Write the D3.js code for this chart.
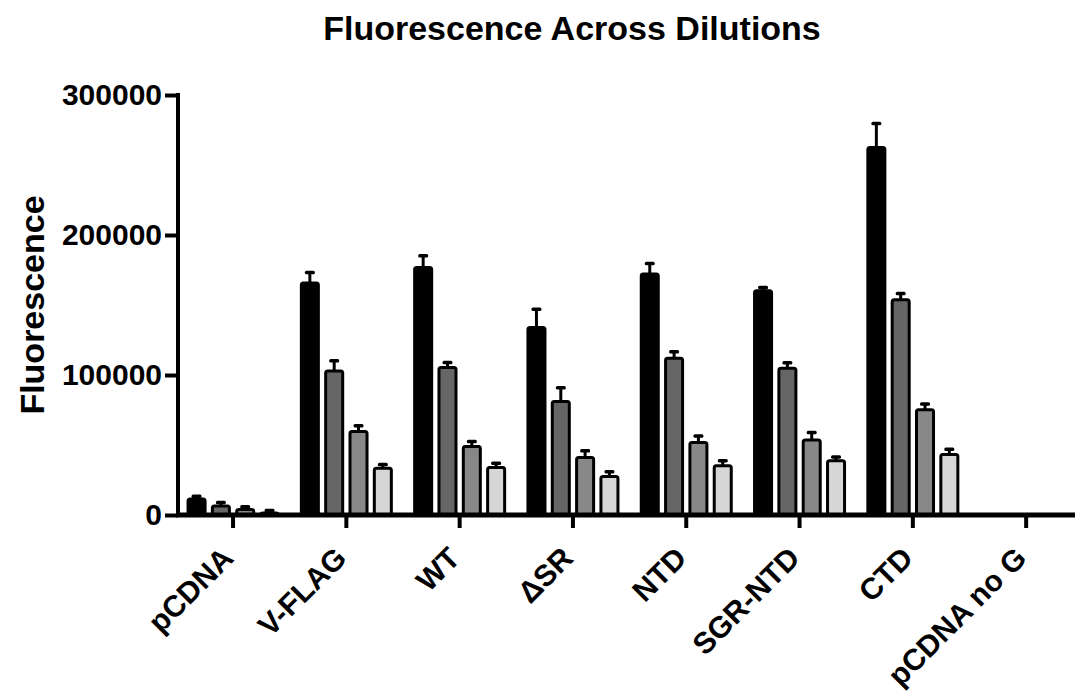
<!DOCTYPE html>
<html>
<head>
<meta charset="utf-8">
<script src="https://cdn.jsdelivr.net/npm/d3@7"></script>
<style>
  body { margin: 0; background: #fff; }
  text { font-family: "Liberation Sans", Arial, sans-serif; font-weight: bold; fill: #000; }
</style>
</head>
<body>
<script>
// data
var categories = ["pCDNA", "V-FLAG", "WT", "\u0394SR", "NTD", "SGR-NTD", "CTD", "pCDNA no G"];
var series = ["d1", "d2", "d3", "d4"];
var colors = ["#000000", "#666666", "#888888", "#d6d6d6"];
var values = [
  [12500, 7500, 5000, 2500],
  [166700, 104000, 60700, 34500],
  [177900, 106400, 50000, 35000],
  [135000, 82100, 42100, 28600],
  [173300, 113100, 52900, 36200],
  [161200, 105900, 54700, 39800],
  [263600, 154800, 76200, 44300],
  [0, 0, 0, 0]
];
var errTops = [
  [13500, 9000, 6000, 3300],
  [173300, 110200, 63800, 36100],
  [185200, 109000, 52500, 37000],
  [147000, 91000, 46000, 31000],
  [179700, 116600, 56400, 38800],
  [162600, 108800, 59000, 41500],
  [279700, 158300, 79300, 47000],
  [0, 0, 0, 0]
];
var yTicks = [0, 100000, 200000, 300000];

var width = 1075, height = 700;

var svg = d3.select("body").append("svg")
  .attr("width", width)
  .attr("height", height);

var x0 = d3.scaleBand()
  .domain(categories)
  .range([176.4, 1082.8]);
var x1 = d3.scaleBand()
  .domain(series)
  .range([0, 93])
  .paddingInner(0.177);
var y = d3.scaleLinear()
  .domain([0, 300000])
  .range([515, 95]);

// title
svg.append("text")
  .attr("x", 572)
  .attr("y", 40)
  .attr("text-anchor", "middle")
  .attr("font-size", 34)
  .text("Fluorescence Across Dilutions");

// y label
svg.append("text")
  .attr("transform", "translate(44,305) rotate(-90)")
  .attr("text-anchor", "middle")
  .attr("font-size", 34)
  .text("Fluorescence");

// bars
var groups = svg.selectAll(".grp")
  .data(categories)
  .enter()
  .append("g")
  .attr("class", "grp")
  .attr("transform", function(d) { return "translate(" + (x0(d) + x0.bandwidth() / 2 - 46.5) + ",0)"; });

groups.each(function(cat, ci) {
  var g = d3.select(this);
  series.forEach(function(s, si) {
    var v = values[ci][si];
    var e = errTops[ci][si];
    var bx = x1(s);
    var bw = x1.bandwidth();
    if (v <= 0) return;
    // error bar (upper only)
    g.append("line")
      .attr("x1", bx + bw / 2).attr("x2", bx + bw / 2)
      .attr("y1", y(v) + 2).attr("y2", y(e))
      .attr("stroke", "#000")
      .attr("stroke-width", 3);
    g.append("rect")
      .attr("x", bx + bw / 2 - 5)
      .attr("y", y(e) - 1.7)
      .attr("width", 10)
      .attr("height", 3.5)
      .attr("rx", 1.5)
      .attr("fill", "#000");
    g.append("rect")
      .attr("x", bx + 1.5)
      .attr("y", y(v) + 1.5)
      .attr("width", bw - 3)
      .attr("height", Math.max(0, y(0) - y(v) - 1.5))
      .attr("rx", 2)
      .attr("fill", colors[si])
      .attr("stroke", "#000")
      .attr("stroke-width", 3);
  });
});

// y axis
var yAxis = svg.append("g")
  .attr("transform", "translate(178,0)")
  .call(d3.axisLeft(y).tickValues(yTicks).tickSize(13).tickPadding(3).tickFormat(d3.format("d")));
yAxis.select(".domain").remove();
yAxis.append("line")
  .attr("x1", 0).attr("x2", 0)
  .attr("y1", y(300000) - 2).attr("y2", y(0) + 2)
  .attr("stroke", "#000").attr("stroke-width", 4);
yAxis.selectAll(".tick line").attr("stroke", "#000").attr("stroke-width", 4);
yAxis.selectAll(".tick text")
  .attr("font-size", 30)
  .style("font-family", "'Liberation Sans', Arial, sans-serif")
  .style("font-weight", "bold")
  .attr("fill", "#000");

// x axis
var xAxis = svg.append("g")
  .attr("transform", "translate(0,515)")
  .call(d3.axisBottom(x0).tickSize(13).tickFormat(""));
xAxis.select(".domain").remove();
xAxis.append("line")
  .attr("x1", 176).attr("x2", 1075)
  .attr("y1", 0).attr("y2", 0)
  .attr("stroke", "#000").attr("stroke-width", 5);
xAxis.selectAll(".tick line").attr("stroke", "#000").attr("stroke-width", 4);

// x labels
svg.selectAll(".xlab")
  .data(categories)
  .enter()
  .append("text")
  .attr("class", "xlab")
  .attr("transform", function(d) {
    return "translate(" + (x0(d) + x0.bandwidth() / 2 + 2) + ",560) rotate(-45)";
  })
  .attr("text-anchor", "end")
  .attr("font-size", 30)
  .text(function(d) { return d; });
</script>
</body>
</html>
